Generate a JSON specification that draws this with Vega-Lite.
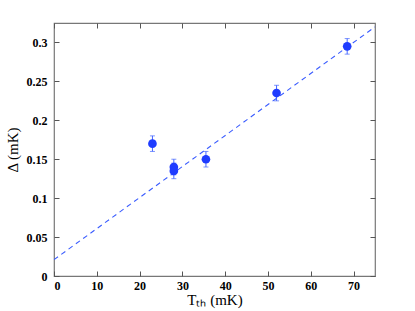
{
  "$schema": "https://vega.github.io/schema/vega-lite/v6.json",
  "width": 321,
  "height": 253,
  "autosize": {"type": "none"},
  "padding": {"left": 54, "top": 23, "right": 40, "bottom": 35},
  "background": "white",
  "config": {
    "view": {"stroke": "#777777", "strokeWidth": 1.2},
    "axis": {
      "grid": false,
      "domain": false,
      "tickColor": "#555555",
      "tickSize": -5,
      "labelFont": "Liberation Serif",
      "labelFontWeight": "bold",
      "labelFontSize": 12,
      "labelColor": "black",
      "titleFont": "Liberation Serif",
      "titleFontWeight": "normal",
      "titleFontSize": 14,
      "titleColor": "black"
    }
  },
  "resolve": {"axis": {"x": "independent", "y": "independent"}},
  "datasets": {
    "pts": [
      {"T": 23, "D": 0.17, "lo": 0.16, "hi": 0.18},
      {"T": 28, "D": 0.14, "lo": 0.13, "hi": 0.15},
      {"T": 28, "D": 0.135, "lo": 0.125, "hi": 0.145},
      {"T": 35.5, "D": 0.15, "lo": 0.14, "hi": 0.16},
      {"T": 52, "D": 0.235, "lo": 0.225, "hi": 0.245},
      {"T": 68.5, "D": 0.295, "lo": 0.285, "hi": 0.305}
    ],
    "fit": [
      {"T": 0, "D": 0.021},
      {"T": 75, "D": 0.32}
    ]
  },
  "layer": [
    {
      "data": {"name": "fit"},
      "mark": {"type": "line", "color": "#3a5cff", "strokeDash": [5, 4], "strokeWidth": 1.1, "clip": true},
      "encoding": {
        "x": {"field": "T", "type": "quantitative", "scale": {"domain": [0, 75], "nice": false},
              "axis": {"orient": "bottom", "title": "Tₜₕ  (mK)", "values": [0,10,20,30,40,50,60,70], "format": "d", "labelPadding": 9, "titlePadding": 1, "titleFontSize": 15}},
        "y": {"field": "D", "type": "quantitative", "scale": {"domain": [0, 0.325], "nice": false},
              "axis": {"orient": "left", "title": "Δ  (mK)", "values": [0,0.05,0.1,0.15,0.2,0.25,0.3], "format": "~g", "labelPadding": 12, "titlePadding": 6, "titleFontSize": 15}}
      }
    },
    {
      "data": {"name": "pts"},
      "mark": {"type": "rule", "color": "#4466ff", "strokeWidth": 1},
      "encoding": {
        "x": {"field": "T", "type": "quantitative", "axis": null},
        "y": {"field": "lo", "type": "quantitative", "axis": null},
        "y2": {"field": "hi"}
      }
    },
    {
      "data": {"name": "pts"},
      "mark": {"type": "tick", "color": "#4466ff", "orient": "horizontal", "size": 5, "thickness": 1},
      "encoding": {
        "x": {"field": "T", "type": "quantitative", "axis": null},
        "y": {"field": "lo", "type": "quantitative", "axis": null}
      }
    },
    {
      "data": {"name": "pts"},
      "mark": {"type": "tick", "color": "#4466ff", "orient": "horizontal", "size": 5, "thickness": 1},
      "encoding": {
        "x": {"field": "T", "type": "quantitative", "axis": null},
        "y": {"field": "hi", "type": "quantitative", "axis": null}
      }
    },
    {
      "data": {"name": "pts"},
      "mark": {"type": "circle", "color": "#1f3cff", "opacity": 1, "size": 75},
      "encoding": {
        "x": {"field": "T", "type": "quantitative", "axis": null},
        "y": {"field": "D", "type": "quantitative", "axis": null}
      }
    },
    {
      "data": {"name": "fit"},
      "mark": {"type": "point", "opacity": 0},
      "encoding": {
        "x": {"field": "T", "type": "quantitative",
              "axis": {"orient": "top", "labels": false, "title": null, "values": [0,10,20,30,40,50,60,70]}},
        "y": {"field": "D", "type": "quantitative",
              "axis": {"orient": "right", "labels": false, "title": null, "values": [0,0.05,0.1,0.15,0.2,0.25,0.3]}}
      }
    }
  ]
}
